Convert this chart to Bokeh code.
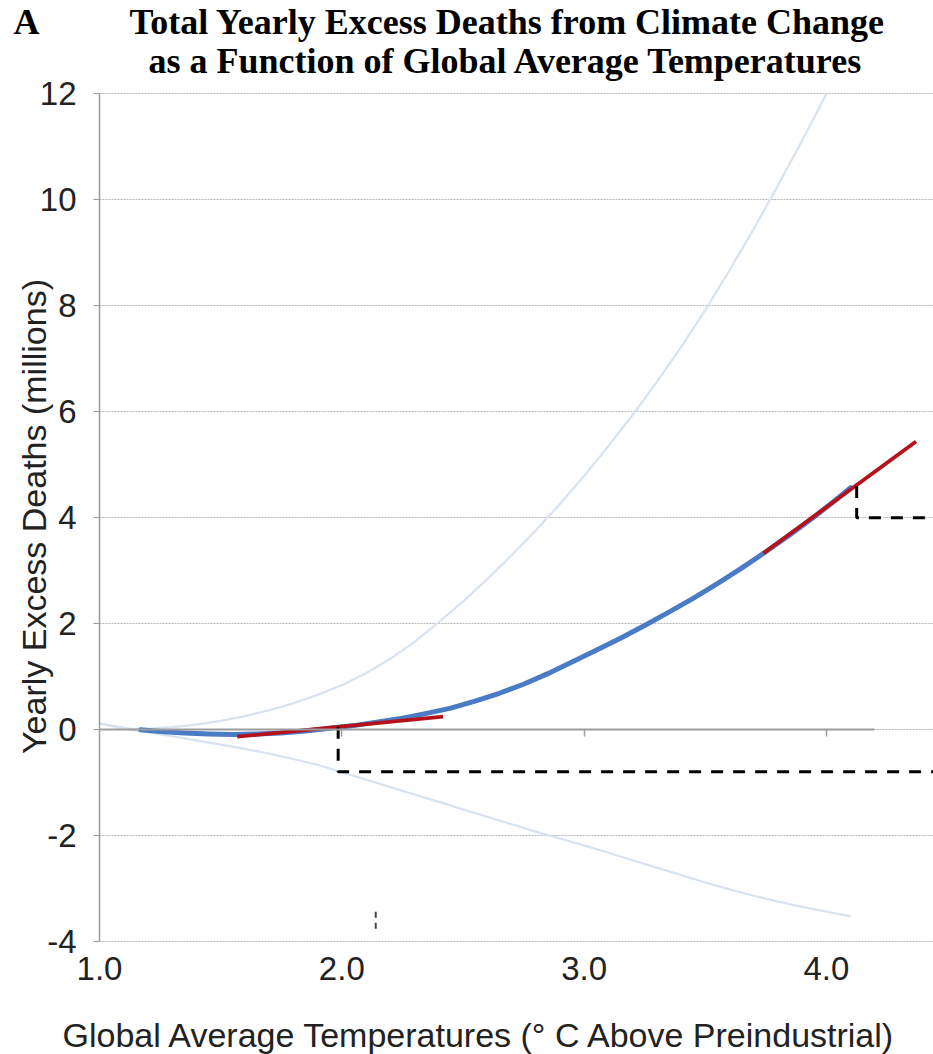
from bokeh.plotting import figure
from bokeh.models import Range1d, LinearAxis, FixedTicker, PrintfTickFormatter, Title
from bokeh.embed import file_html
from bokeh.resources import INLINE

# ---------------- data ----------------
x_ticks = [1.0, 2.0, 3.0, 4.0]
y_ticks = [-4, -2, 0, 2, 4, 6, 8, 10, 12]
y_tick_text = {-4: "-4", -2: "-2"}

# central estimate (blue)
temp_central = [1.17, 1.25, 1.35, 1.45, 1.55, 1.65, 1.75, 1.85, 1.95, 2.05, 2.15, 2.25,
                2.35, 2.45, 2.55, 2.65, 2.75, 2.85, 2.95, 3.05, 3.15, 3.25, 3.35, 3.45,
                3.55, 3.65, 3.75, 3.85, 3.95, 4.05, 4.1]
deaths_central = [0.0, -0.03, -0.06, -0.08, -0.09, -0.08, -0.06, -0.02, 0.03, 0.08, 0.15, 0.22,
                  0.31, 0.41, 0.54, 0.69, 0.86, 1.06, 1.28, 1.50, 1.73, 1.97, 2.22, 2.48,
                  2.76, 3.05, 3.36, 3.68, 4.02, 4.38, 4.57]

# upper bound (light)
temp_upper = [1.0, 1.06, 1.13, 1.2, 1.3, 1.4, 1.5, 1.6, 1.7, 1.8, 1.9, 2.0, 2.1, 2.2, 2.3,
              2.4, 2.5, 2.6, 2.7, 2.8, 2.9, 3.0, 3.1, 3.2, 3.3, 3.4, 3.5, 3.6, 3.7, 3.8,
              3.9, 4.0]
deaths_upper = [0.12, 0.07, 0.02, 0.02, 0.05, 0.1, 0.17, 0.26, 0.37, 0.5, 0.66, 0.84, 1.07,
                1.34, 1.66, 2.03, 2.42, 2.84, 3.29, 3.76, 4.26, 4.79, 5.35, 5.94, 6.56,
                7.22, 7.92, 8.67, 9.45, 10.27, 11.12, 12.0]

# lower bound (light)
temp_lower = [1.0, 1.06, 1.13, 1.2, 1.3, 1.4, 1.5, 1.6, 1.7, 1.8, 1.9, 2.0, 2.1, 2.2, 2.3,
              2.4, 2.5, 2.6, 2.7, 2.8, 2.9, 3.0, 3.1, 3.2, 3.3, 3.4, 3.5, 3.6, 3.7, 3.8,
              3.9, 4.0, 4.1]
deaths_lower = [0.12, 0.06, 0.0, -0.05, -0.12, -0.2, -0.28, -0.36, -0.45, -0.55, -0.66, -0.8,
                -0.94, -1.08, -1.22, -1.36, -1.5, -1.64, -1.78, -1.92, -2.05, -2.18, -2.32,
                -2.46, -2.6, -2.74, -2.88, -3.01, -3.13, -3.24, -3.34, -3.43, -3.52]

# tangent lines (red)
tangent_low_t = [1.568, 2.418]
tangent_low_d = [-0.13, 0.25]
tangent_high_t = [3.74, 4.37]
tangent_high_d = [3.33, 5.44]

# dashed guides (black)
guide_low_t = [1.985, 1.985, 4.5]
guide_low_d = [0.06, -0.79, -0.79]
guide_high_t = [4.125, 4.125, 4.5]
guide_high_d = [4.6, 4.0, 4.0]

# small dashed mark
mark_t = [2.14, 2.14]
mark_d = [-3.43, -3.77]

# ---------------- styling ----------------
AXIS_GRAY = "#9c9c9c"
GRID_GRAY = "#b4b4b4"
LIGHT = "#d8e3f1"
TEXT = "#222222"
SANS = "Liberation Sans"
SERIF = "Liberation Serif"
NBSP = "\u00a0"

p = figure(width=933, height=1054, output_backend="svg", toolbar_location=None,
           x_range=Range1d(1.0, 4.442), y_range=Range1d(-4.05, 12.1),
           min_border_left=99, min_border_right=0, min_border_top=88, min_border_bottom=109,
           title="A" + NBSP * 10 + "Total Yearly Excess Deaths from Climate Change")
p.outline_line_color = None
p.background_fill_color = "white"
p.border_fill_color = "white"

# titles (first line carries the panel letter)
p.title.text_font = SERIF
p.title.text_font_size = "36px"
p.title.text_font_style = "bold"
p.title.text_color = "black"
p.title.align = "left"
p.title.offset = -86
p.title.standoff = -21
p.add_layout(Title(text="as a Function of Global Average Temperatures", text_font=SERIF,
                   text_font_size="36px", text_font_style="bold", text_color="black",
                   align="left", offset=49, standoff=15), "above")

# grid
p.xgrid.visible = False
p.ygrid.ticker = FixedTicker(ticks=y_ticks)
p.ygrid.bounds = (1.0, 4.2)
p.ygrid.grid_line_color = GRID_GRAY
p.ygrid.grid_line_dash = "2 1"
p.ygrid.grid_line_width = 1

# left axis
ya = p.yaxis[0]
ya.ticker = FixedTicker(ticks=y_ticks)
ya.major_label_overrides = y_tick_text
ya.bounds = (-4, 12)
ya.axis_line_color = AXIS_GRAY
ya.axis_line_width = 1.5
ya.major_tick_in = 0
ya.major_tick_out = 6
ya.major_tick_line_color = AXIS_GRAY
ya.minor_tick_line_color = None
ya.major_label_standoff = 17
ya.major_label_text_font = SANS
ya.major_label_text_font_size = "33px"
ya.major_label_text_color = TEXT
ya.axis_label = "Yearly Excess Deaths (millions)"
ya.axis_label_text_font = SANS
ya.axis_label_text_font_size = "34px"
ya.axis_label_text_font_style = "normal"
ya.axis_label_text_color = TEXT
ya.axis_label_standoff = -16

# bottom axis (labels only)
xa = p.xaxis[0]
xa.ticker = FixedTicker(ticks=x_ticks)
xa.formatter = PrintfTickFormatter(format="%.1f")
xa.axis_line_color = None
xa.major_tick_line_color = None
xa.minor_tick_line_color = None
xa.major_tick_in = 0
xa.major_tick_out = 0
xa.major_label_standoff = 12
xa.major_label_text_font = SANS
xa.major_label_text_font_size = "33px"
xa.major_label_text_color = TEXT

# spacing panel, then the x-axis title under the tick labels
p.add_layout(Title(text=NBSP, text_font_size="1px", standoff=27), "below")
p.add_layout(Title(text="Global Average Temperatures (\u00b0 C Above Preindustrial)",
                   text_font=SANS, text_font_size="34px", text_font_style="normal",
                   text_color=TEXT, align="left", offset=-37, standoff=2), "below")

# horizontal axis crossing at zero
zero_axis = LinearAxis(fixed_location=0, bounds=(1.0, 4.2), ticker=FixedTicker(ticks=x_ticks[1:]),
                       axis_line_color=AXIS_GRAY, axis_line_width=2,
                       major_tick_in=0, major_tick_out=7, major_tick_line_color=AXIS_GRAY,
                       major_tick_line_width=1.5, minor_tick_line_color=None,
                       major_label_overrides={t: "" for t in x_ticks[1:]})
p.add_layout(zero_axis, "below")

# curves
p.line(temp_upper, deaths_upper, line_color=LIGHT, line_width=2.2, line_join="round")
p.line(temp_lower, deaths_lower, line_color=LIGHT, line_width=2.2, line_join="round")
p.line(temp_central, deaths_central, line_color="#4a7cc6", line_width=5,
       line_cap="round", line_join="round")
p.line(tangent_low_t, tangent_low_d, line_color="#b5121b", line_width=3.8)
p.line(tangent_high_t, tangent_high_d, line_color="#b5121b", line_width=3.8)

# dashed guides
p.line(guide_low_t, guide_low_d, line_color="black", line_width=3, line_dash="12 10")
p.line(guide_high_t, guide_high_d, line_color="black", line_width=3, line_dash="12 10")
p.line(mark_t, mark_d, line_color="#444444", line_width=2, line_dash="6 5")

open("out.html", "w").write(file_html(p, INLINE))
